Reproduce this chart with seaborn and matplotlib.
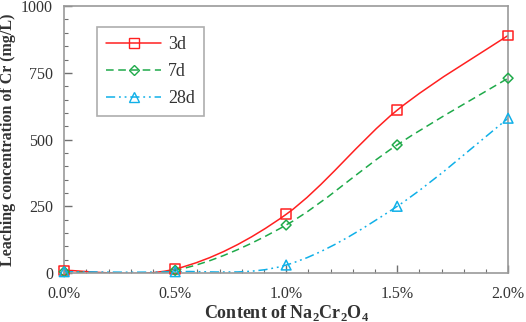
import numpy as np
import matplotlib
matplotlib.use("Agg")
import matplotlib.pyplot as plt
import seaborn as sns
from matplotlib.path import Path
from matplotlib.patches import PathPatch
from matplotlib.lines import Line2D
from matplotlib.ticker import MultipleLocator, FuncFormatter

# data
content = [0.0, 0.005, 0.010, 0.015, 0.020]
cr_3d = [10, 15, 220, 610, 890]
cr_7d = [5, 10, 180, 480, 730]
cr_28d = [5, 5, 30, 250, 580]
series_names = ["3d", "7d", "28d"]

sns.set_theme(style="ticks")
plt.rcParams["font.family"] = ["Liberation Serif", "DejaVu Serif"]
plt.rcParams["mathtext.fontset"] = "custom"
plt.rcParams["mathtext.rm"] = "Liberation Serif:bold"
plt.rcParams["mathtext.bf"] = "Liberation Serif:bold"

colors = ["#FF2020", "#1FAA4A", "#10B0E8"]
markers = ["s", "D", "^"]
msizes = [7, 5, 7]
styles = ["-", (0, (5, 3)), (0, (6, 2.5, 1.2, 2.5, 1.2, 2.5))]


def smooth_path(x, y):
    # excel-like smoothed line as cubic bezier segments
    pts = np.column_stack([x, y]).astype(float)
    n = len(pts)
    verts = [pts[0]]
    codes = [Path.MOVETO]
    for i in range(n - 1):
        p0 = pts[max(i - 1, 0)]
        p1 = pts[i]
        p2 = pts[i + 1]
        p3 = pts[min(i + 2, n - 1)]
        c1 = p1 + (p2 - p0) / 6
        c2 = p2 - (p3 - p1) / 6
        verts += [c1, c2, p2]
        codes += [Path.CURVE4] * 3
    return Path(verts, codes)


fig, ax = plt.subplots(figsize=(5.26, 3.22), dpi=100)
fig.subplots_adjust(left=0.122, right=0.966, bottom=0.152, top=0.981)

handles = []
for name, vals, c, m, ms, ls in zip(series_names, [cr_3d, cr_7d, cr_28d],
                                    colors, markers, msizes, styles):
    patch = PathPatch(smooth_path(content, vals), facecolor="none",
                      edgecolor=c, lw=1.1, linestyle=ls, zorder=2)
    ax.add_patch(patch)
    sns.scatterplot(x=content, y=vals, ax=ax, marker=m, s=ms ** 2,
                    facecolor="none", edgecolor=c, linewidth=1.1, zorder=3,
                    legend=False, clip_on=False)
    handles.append(Line2D([], [], color=c, lw=1.1, linestyle=ls, marker=m,
                          markersize=ms, markerfacecolor="none",
                          markeredgecolor=c, label=name))

ax.set_xlim(0, 0.020)
ax.set_ylim(0, 1000)
ax.xaxis.set_major_locator(MultipleLocator(0.005))
ax.xaxis.set_minor_locator(MultipleLocator(0.001))
ax.yaxis.set_major_locator(MultipleLocator(250))
ax.yaxis.set_minor_locator(MultipleLocator(50))
ax.xaxis.set_major_formatter(FuncFormatter(lambda v, p: f"{v * 100:.1f}%"))

for s in ax.spines.values():
    s.set_color("#9A9A9A")
    s.set_linewidth(1.2)
ax.tick_params(which="both", direction="in", color="#707070",
               labelsize=11.5, labelcolor="#333333")
ax.tick_params(axis="x", which="major", pad=9)
ax.tick_params(axis="y", which="major", pad=8)
ax.tick_params(which="major", length=6, width=1)
ax.tick_params(which="minor", length=3, width=0.8)

ax.set_xlabel(r"Content of Na$_2$Cr$_2$O$_4$", fontsize=13,
              fontweight="bold", color="#333333", labelpad=1)
ax.set_ylabel("Leaching concentration of Cr (mg/L)", fontsize=11.5,
              fontweight="bold", color="#333333", labelpad=4)

leg = ax.legend(handles=handles, loc="upper left",
                bbox_to_anchor=(0.075, 0.921), fontsize=13, frameon=True,
                fancybox=False, edgecolor="#9A9A9A", handlelength=3.0,
                borderpad=0.5, labelspacing=0.55, handletextpad=0.4,
                borderaxespad=0)
leg.get_frame().set_linewidth(1.2)
for t in leg.get_texts():
    t.set_color("#333333")

fig.savefig("out.png", dpi=100)
